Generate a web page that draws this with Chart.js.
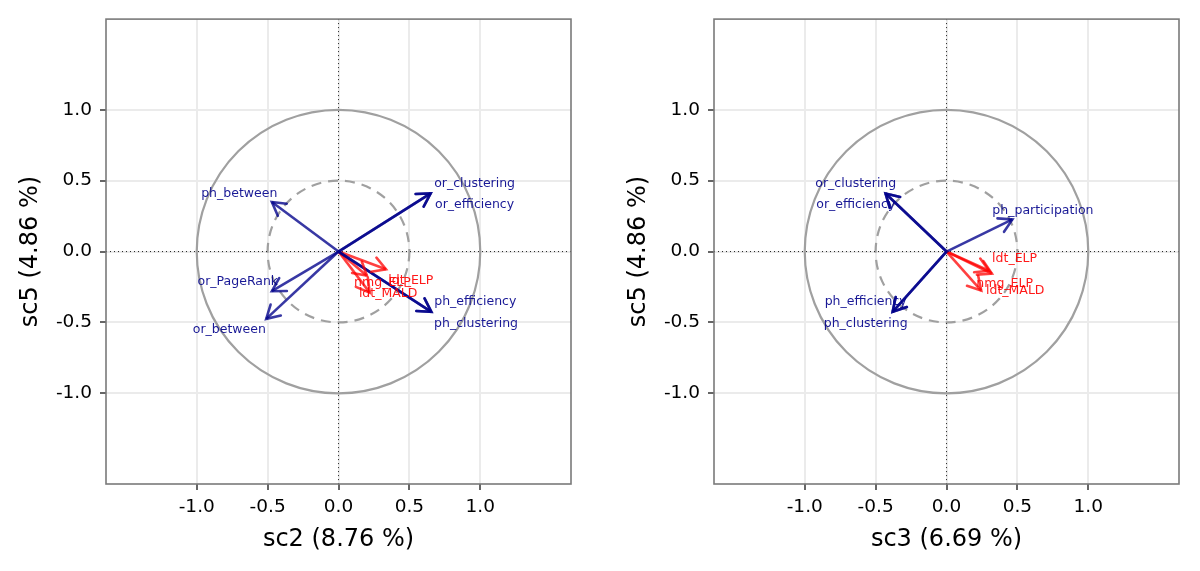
<!DOCTYPE html>
<html>
<head>
<meta charset="utf-8">
<script src="https://cdn.jsdelivr.net/npm/chart.js@4.4.0/dist/chart.umd.min.js"></script>
<style>
    body { margin: 0; background: #fff; width: 1200px; height: 571px; overflow: hidden; position: relative; }
    canvas { position: absolute; top: 0; }
</style>
</head>
<body>
<canvas id="leftChart" width="600" height="571" style="left:0"></canvas>
<canvas id="rightChart" width="600" height="571" style="left:600px"></canvas>
<script>
// axis ticks shared by both panels
const tickValues = [-1, -0.5, 0, 0.5, 1];
const axisLimit = 1.64;

// left panel: sc2 vs sc5
const leftNames = ['or_clustering', 'or_efficiency', 'ph_between', 'or_PageRank', 'or_between',
    'ph_efficiency', 'ph_clustering', 'ldt_ELP', 'nmg_ELP', 'ldt_MALD'];
const leftKinds = ['net', 'net', 'net', 'net', 'net', 'net', 'net', 'beh', 'beh', 'beh'];
const leftX = [0.65, 0.65, -0.47, -0.47, -0.51, 0.655, 0.655, 0.335, 0.2, 0.22];
const leftY = [0.41, 0.41, 0.35, -0.28, -0.475, -0.425, -0.425, -0.125, -0.17, -0.29];
const leftLabelX = [0.96, 0.96, -0.70, -0.71, -0.77, 0.965, 0.97, 0.51, 0.31, 0.35];
const leftLabelY = [0.48, 0.33, 0.41, -0.21, -0.55, -0.355, -0.51, -0.205, -0.22, -0.30];

// right panel: sc3 vs sc5
const rightNames = ['or_clustering', 'or_efficiency', 'ph_participation', 'ph_efficiency',
    'ph_clustering', 'ldt_ELP', 'nmg_ELP', 'ldt_MALD'];
const rightKinds = ['net', 'net', 'net', 'net', 'net', 'beh', 'beh', 'beh'];
const rightX = [-0.43, -0.43, 0.465, -0.38, -0.38, 0.30, 0.32, 0.245];
const rightY = [0.41, 0.41, 0.227, -0.425, -0.425, -0.135, -0.155, -0.275];
const rightLabelX = [-0.64, -0.64, 0.68, -0.57, -0.57, 0.48, 0.41, 0.485];
const rightLabelY = [0.48, 0.33, 0.29, -0.355, -0.51, -0.05, -0.225, -0.275];

const arrowColor = { net: 'rgba(0, 0, 139, 0.78)', beh: 'rgba(255, 0, 0, 0.75)' };
const labelColor = { net: 'rgba(0, 0, 139, 0.9)', beh: 'rgba(255, 0, 0, 0.9)' };
const fontFamily = '"DejaVu Sans", sans-serif';

function makeChart(canvasId, xs, ys, lx, ly, names, kinds, xTitle, yTitle, padLeft, padRight) {
    const datasets = xs.map((x, i) => ({
        data: [{ x: 0, y: 0 }, { x: x, y: ys[i] }],
        showLine: true,
        pointRadius: 0,
        borderWidth: 2.6,
        borderColor: arrowColor[kinds[i]]
    }));

    // circles of correlation and the dotted zero lines
    const backdrop = {
        id: 'backdrop',
        beforeDatasetsDraw(chart) {
            const { ctx, chartArea: a, scales: { x, y } } = chart;
            const cx = x.getPixelForValue(0), cy = y.getPixelForValue(0);
            const r1 = x.getPixelForValue(1) - cx;
            ctx.save();
            ctx.strokeStyle = '#a0a0a0';
            ctx.lineWidth = 2.2;
            ctx.beginPath();
            ctx.arc(cx, cy, r1, 0, Math.PI * 2);
            ctx.stroke();
            ctx.setLineDash([10, 7]);
            ctx.beginPath();
            ctx.arc(cx, cy, r1 / 2, 0, Math.PI * 2);
            ctx.stroke();
            ctx.strokeStyle = '#222';
            ctx.lineWidth = 1;
            ctx.setLineDash([1, 3]);
            ctx.beginPath();
            ctx.moveTo(a.left, cy); ctx.lineTo(a.right, cy);
            ctx.moveTo(cx, a.top); ctx.lineTo(cx, a.bottom);
            ctx.stroke();
            ctx.restore();
        }
    };

    // arrow heads, variable names and panel border
    const overlay = {
        id: 'overlay',
        afterDatasetsDraw(chart) {
            const { ctx, chartArea: a, scales: { x, y } } = chart;
            const ox = x.getPixelForValue(0), oy = y.getPixelForValue(0);
            ctx.save();
            ctx.lineWidth = 2.6;
            ctx.lineCap = 'round';
            xs.forEach((v, i) => {
                const px = x.getPixelForValue(v), py = y.getPixelForValue(ys[i]);
                const ang = Math.atan2(py - oy, px - ox);
                const len = 15, spread = Math.PI / 6;
                ctx.strokeStyle = arrowColor[kinds[i]];
                ctx.beginPath();
                ctx.moveTo(px - len * Math.cos(ang - spread), py - len * Math.sin(ang - spread));
                ctx.lineTo(px, py);
                ctx.lineTo(px - len * Math.cos(ang + spread), py - len * Math.sin(ang + spread));
                ctx.stroke();
            });
            ctx.font = '12.5px ' + fontFamily;
            ctx.textAlign = 'center';
            ctx.textBaseline = 'middle';
            names.forEach((n, i) => {
                ctx.fillStyle = labelColor[kinds[i]];
                ctx.fillText(n, x.getPixelForValue(lx[i]), y.getPixelForValue(ly[i]));
            });
            ctx.strokeStyle = '#7a7a7a';
            ctx.lineWidth = 1.6;
            ctx.strokeRect(a.left, a.top, a.right - a.left, a.bottom - a.top);
            ctx.restore();
        }
    };

    const axisCommon = {
        type: 'linear',
        min: -axisLimit,
        max: axisLimit,
        afterBuildTicks: (s) => { s.ticks = tickValues.map(v => ({ value: v })); },
        grid: { color: '#ebebeb', lineWidth: 2, tickColor: '#333', tickLength: 6, tickWidth: 1.5 },
        border: { display: false }
    };

    return new Chart(document.getElementById(canvasId), {
        type: 'scatter',
        data: { datasets: datasets },
        options: {
            responsive: false,
            animation: false,
            events: [],
            layout: { padding: { left: padLeft, right: padRight, top: 18, bottom: 0 } },
            plugins: { legend: { display: false }, tooltip: { enabled: false } },
            scales: {
                x: Object.assign({}, axisCommon, {
                    afterFit: (s) => { s.height = 87; },
                    ticks: {
                        color: '#000', padding: 6,
                        font: { family: fontFamily, size: 18.5 },
                        callback: (v) => v.toFixed(1)
                    },
                    title: {
                        display: true, text: xTitle, color: '#000',
                        font: { family: fontFamily, size: 24 },
                        padding: { top: 0, bottom: 17 }
                    }
                }),
                y: Object.assign({}, axisCommon, {
                    afterFit: (s) => { s.width = 106; },
                    ticks: {
                        color: '#000', padding: 8,
                        font: { family: fontFamily, size: 18.5 },
                        callback: (v) => v.toFixed(1)
                    },
                    title: {
                        display: true, text: yTitle, color: '#000',
                        font: { family: fontFamily, size: 24 },
                        padding: { top: 16, bottom: 0 }
                    }
                })
            }
        },
        plugins: [backdrop, overlay]
    });
}

makeChart('leftChart', leftX, leftY, leftLabelX, leftLabelY, leftNames, leftKinds,
    'sc2 (8.76 %)', 'sc5 (4.86 %)', 0, 29);
makeChart('rightChart', rightX, rightY, rightLabelX, rightLabelY, rightNames, rightKinds,
    'sc3 (6.69 %)', 'sc5 (4.86 %)', 8, 21);
</script>
</body>
</html>
